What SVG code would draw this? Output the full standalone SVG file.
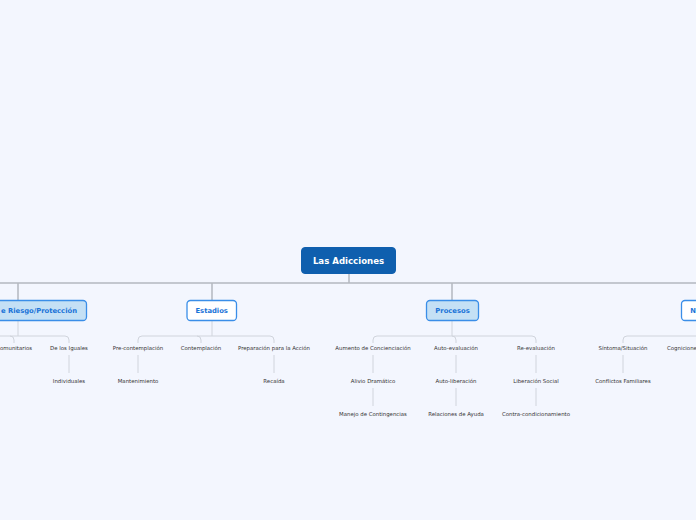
<svg xmlns="http://www.w3.org/2000/svg" width="696" height="520" viewBox="0 0 696 520">
<style>
.bg{fill:#f3f6fe}
.ln{fill:none;stroke:#b4b8c0;stroke-width:1.5}
.ln2{fill:none;stroke:#d0d4dc;stroke-width:1}
.root{fill:#0f5fae;stroke:#0f5fae}
.main{stroke:#3a8ee8;stroke-width:1.3}
.lb{fill:#c4e0f5}
.wh{fill:#ffffff}
.rt{font-family:"DejaVu Sans",Verdana,sans-serif;font-size:8.6px;font-weight:bold;fill:#ffffff;text-anchor:middle}
.mt{font-family:"DejaVu Sans",Verdana,sans-serif;font-size:6.8px;font-weight:bold;fill:#1a73d8;text-anchor:middle}
.ct{font-family:"DejaVu Sans",Verdana,sans-serif;font-size:5.4px;fill:#333333;text-anchor:middle}
</style>
<rect class="bg" x="0" y="0" width="696" height="520"/>
<g id="connectors">
<path class="ln" d="M0 283H696M349 274V283M18 283V301M212 283V301M452 283V301"/>
<path class="ln2" d="M18 321V336M212 321V336M452 321V336"/>
<path class="ln2" d="M0 336H65Q69 336 69 340V343M10 336Q14 336 14 340V343"/>
<path class="ln2" d="M142 336Q138 336 138 340V343M142 336H270Q274 336 274 340V343M197 336Q201 336 201 340V343"/>
<path class="ln2" d="M377 336Q373 336 373 340V343M377 336H532Q536 336 536 340V343M452 336Q456 336 456 340V343"/>
<path class="ln2" d="M627 336Q623 336 623 340V343M627 336H696"/>
<path class="ln2" d="M69 355V373M138 355V373M274 355V373M373 355V373M456 355V373M536 355V373M623 355V373M373 388V406M456 388V406M536 388V406"/>
</g>
<g id="root">
<rect class="root" x="301.5" y="247.5" width="94" height="26" rx="3.5"/>
<text class="rt" x="348.5" y="263.8">Las Adicciones</text>
</g>
<g id="riesgo">
<rect class="main lb" x="-40" y="300.5" width="126.5" height="20" rx="3.5"/>
<text class="mt" x="39" y="313" >e Riesgo/Protección</text>
</g>
<g id="estadios">
<rect class="main wh" x="187" y="300.5" width="49.5" height="20" rx="3.5"/>
<text class="mt" x="211.7" y="313">Estadios</text>
</g>
<g id="procesos">
<rect class="main lb" x="426.5" y="300.5" width="52" height="20" rx="3.5"/>
<text class="mt" x="452.5" y="313">Procesos</text>
</g>
<g id="n-node">
<rect class="main wh" x="681.5" y="300.5" width="40" height="20" rx="3.5"/>
<text class="mt" x="693" y="313">N</text>
</g>
<g id="comunitarios"><text class="ct" x="16" y="350">omunitarios</text></g>
<g id="iguales"><text class="ct" x="69" y="350">De los Iguales</text></g>
<g id="individuales"><text class="ct" x="69" y="383">Individuales</text></g>
<g id="precontemplacion"><text class="ct" x="138" y="350">Pre-contemplación</text></g>
<g id="mantenimiento"><text class="ct" x="138" y="383">Mantenimiento</text></g>
<g id="contemplacion"><text class="ct" x="201" y="350">Contemplación</text></g>
<g id="preparacion"><text class="ct" x="274" y="350">Preparación para la Acción</text></g>
<g id="recaida"><text class="ct" x="274" y="383">Recaída</text></g>
<g id="aumento"><text class="ct" x="373" y="350">Aumento de Concienciación</text></g>
<g id="alivio"><text class="ct" x="373" y="383">Alivio Dramático</text></g>
<g id="manejo"><text class="ct" x="373" y="416">Manejo de Contingencias</text></g>
<g id="autoevaluacion"><text class="ct" x="456" y="350">Auto-evaluación</text></g>
<g id="autoliberacion"><text class="ct" x="456" y="383">Auto-liberación</text></g>
<g id="relaciones"><text class="ct" x="456" y="416">Relaciones de Ayuda</text></g>
<g id="reevaluacion"><text class="ct" x="536" y="350">Re-evaluación</text></g>
<g id="liberacion"><text class="ct" x="536" y="383">Liberación Social</text></g>
<g id="contracondicionamiento"><text class="ct" x="536" y="416">Contra-condicionamiento</text></g>
<g id="sintoma"><text class="ct" x="623" y="350">Síntoma/Situación</text></g>
<g id="conflictos"><text class="ct" x="623" y="383">Conflictos Familiares</text></g>
<g id="cogniciones"><text class="ct" x="667" y="350" style="text-anchor:start">Cogniciones</text></g>
</svg>
